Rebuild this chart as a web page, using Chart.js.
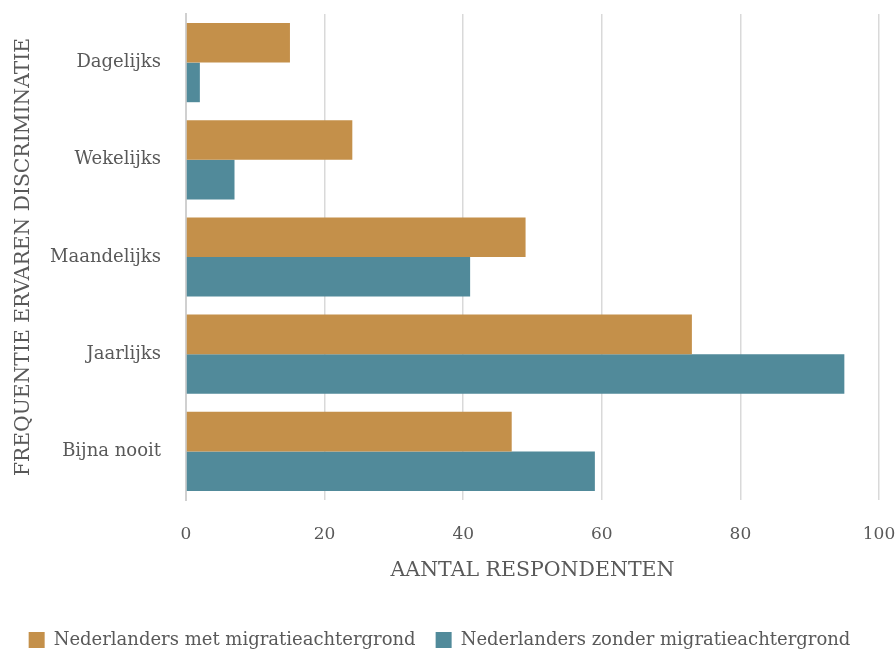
<!DOCTYPE html>
<html lang="nl">
<head>
<meta charset="utf-8">
<title>Frequentie ervaren discriminatie</title>
<script src="https://cdn.jsdelivr.net/npm/chart.js@4"></script>
<style>
    html, body {
        margin: 0;
        padding: 0;
        background: #ffffff;
    }
    .chart-wrap {
        position: relative;
        width: 896px;
        height: 651px;
    }
</style>
</head>
<body>
<div class="chart-wrap">
    <canvas id="discriminatieChart"></canvas>
</div>
<script>
// Categories and series
const categories = ['Dagelijks', 'Wekelijks', 'Maandelijks', 'Jaarlijks', 'Bijna nooit'];
const metMigratie = [15, 24, 49, 73, 47];
const zonderMigratie = [2, 7, 41, 95, 59];
const xTicks = [0, 20, 40, 60, 80, 100];

const textColor = '#595959';
const fontFamily = '"DejaVu Serif", "Liberation Serif", serif';

function initializeChart() {
    const ctx = document.getElementById('discriminatieChart');
    if (!ctx) return;

    const data = {
        labels: categories,
        datasets: [{
            label: 'Nederlanders met migratieachtergrond',
            data: metMigratie,
            backgroundColor: '#c4904a',
            borderWidth: 0
        }, {
            label: 'Nederlanders zonder migratieachtergrond',
            data: zonderMigratie,
            backgroundColor: '#518a9a',
            borderWidth: 0
        }]
    };

    const config = {
        type: 'bar',
        data: data,
        options: {
            indexAxis: 'y',
            responsive: true,
            maintainAspectRatio: false,
            animation: false,
            datasets: {
                bar: {
                    categoryPercentage: 0.815,
                    barPercentage: 1.0
                }
            },
            layout: {
                autoPadding: false,
                padding: { top: 14, right: 17, bottom: -8, left: 0 }
            },
            plugins: {
                legend: {
                    position: 'bottom',
                    labels: {
                        color: textColor,
                        boxWidth: 16,
                        boxHeight: 16,
                        padding: 20,
                        font: { family: fontFamily, size: 18 }
                    }
                },
                tooltip: { enabled: false }
            },
            scales: {
                x: {
                    min: 0,
                    max: 100,
                    afterBuildTicks: function(axis) {
                        axis.ticks = xTicks.map(v => ({ value: v }));
                    },
                    // fixed axis height so the legend sits at the bottom edge
                    afterFit: function(axis) {
                        axis.height = 111;
                        axis.paddingLeft = 0;
                        axis.paddingRight = 0;
                    },
                    grid: {
                        color: '#d9d9d9',
                        lineWidth: 1.5,
                        drawTicks: false
                    },
                    border: { display: false },
                    ticks: {
                        color: textColor,
                        padding: 24,
                        font: { family: fontFamily, size: 17 }
                    },
                    title: {
                        display: true,
                        text: 'AANTAL RESPONDENTEN',
                        color: textColor,
                        padding: { top: 0, bottom: 28 },
                        font: { family: fontFamily, size: 20.5 }
                    }
                },
                y: {
                    afterFit: function(axis) {
                        axis.width = 186;
                        axis.paddingTop = 0;
                        axis.paddingBottom = 0;
                    },
                    grid: { display: false },
                    border: {
                        display: true,
                        color: '#d0d0d0',
                        width: 2
                    },
                    ticks: {
                        color: textColor,
                        padding: 17,
                        font: { family: fontFamily, size: 18 }
                    },
                    title: {
                        display: true,
                        text: 'FREQUENTIE ERVAREN DISCRIMINATIE',
                        color: textColor,
                        padding: { top: 12, bottom: 0 },
                        font: { family: fontFamily, size: 20.3 }
                    }
                }
            }
        }
    };

    new Chart(ctx, config);
}

document.addEventListener('DOMContentLoaded', initializeChart);
</script>
</body>
</html>
